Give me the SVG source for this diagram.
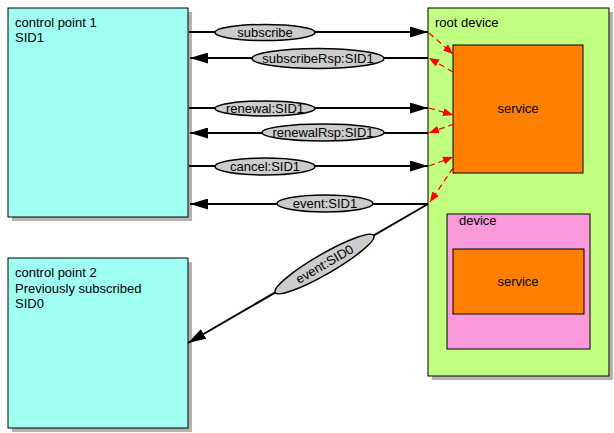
<svg xmlns="http://www.w3.org/2000/svg" width="614" height="433" viewBox="0 0 614 433">
<defs>
<marker id="ah" markerUnits="userSpaceOnUse" markerWidth="18" markerHeight="11" refX="18" refY="5.5" orient="auto"><path d="M0,0 L18,5.5 L0,11 z" fill="#000"/></marker>
<marker id="rh" markerUnits="userSpaceOnUse" markerWidth="10" markerHeight="8" refX="10" refY="4" orient="auto"><path d="M0,0 L10,4 L0,8 z" fill="#ff0000"/></marker>
<style>
text{font-family:"Liberation Sans",Arial,sans-serif;font-size:13px;fill:#000}
.sh{fill:#b3b3b3}
.box{stroke:#000;stroke-width:1}
.cp{fill:#9ffff0}
.msg{stroke:#000;stroke-width:2;fill:none}
.lab{fill:#cccccc;stroke:#000;stroke-width:1.5}
.red{stroke:#ff0000;stroke-width:1.3;stroke-dasharray:6,4;fill:none}
.c{text-anchor:middle}
</style>
</defs>
<g id="cp1">
<rect class="sh" x="12" y="12" width="180" height="209"/>
<rect class="box cp" x="8" y="8" width="180" height="209"/>
<text x="15" y="27">control point 1</text>
<text x="15" y="42">SID1</text>
</g>
<g id="cp2">
<rect class="sh" x="12" y="262" width="180" height="170"/>
<rect class="box cp" x="8" y="258" width="180" height="170"/>
<text x="15" y="277">control point 2</text>
<text x="15" y="293">Previously subscribed</text>
<text x="15" y="308">SID0</text>
</g>
<g id="root">
<rect class="sh" x="432" y="12" width="181" height="368"/>
<rect class="box" fill="#c0ff80" x="428" y="8" width="181" height="368"/>
<text x="435" y="27">root device</text>
</g>
<g id="service1">
<rect class="box" fill="#ff8000" x="453" y="45" width="130" height="128"/>
<text class="c" x="518" y="113">service</text>
</g>
<g id="device">
<rect class="box" fill="#fa9ada" x="447" y="214" width="143" height="135"/>
<text x="459" y="225">device</text>
</g>
<g id="service2">
<rect class="box" fill="#ff8000" x="453" y="249" width="131" height="65"/>
<text class="c" x="518" y="286">service</text>
</g>
<g id="connectors">
<line class="msg" x1="189" y1="32" x2="428" y2="32" marker-end="url(#ah)"/>
<line class="msg" x1="428" y1="58" x2="190" y2="58" marker-end="url(#ah)"/>
<line class="msg" x1="189" y1="108" x2="428" y2="108" marker-end="url(#ah)"/>
<line class="msg" x1="428" y1="133" x2="190" y2="133" marker-end="url(#ah)"/>
<line class="msg" x1="189" y1="166" x2="428" y2="166" marker-end="url(#ah)"/>
<line class="msg" x1="428" y1="204" x2="190" y2="204" marker-end="url(#ah)"/>
<line class="msg" x1="428" y1="204" x2="188" y2="343" marker-end="url(#ah)"/>
<line class="red" x1="429" y1="33" x2="453" y2="54" marker-end="url(#rh)"/>
<line class="red" x1="453" y1="72" x2="429" y2="58" marker-end="url(#rh)"/>
<line class="red" x1="429" y1="108" x2="453" y2="115" marker-end="url(#rh)"/>
<line class="red" x1="454" y1="124" x2="429" y2="133" marker-end="url(#rh)"/>
<line class="red" x1="429" y1="166" x2="453" y2="157" marker-end="url(#rh)"/>
<line class="red" x1="453" y1="168" x2="430" y2="202" marker-end="url(#rh)"/>
<ellipse class="lab" cx="265" cy="32.5" rx="50" ry="8"/>
<text class="c" x="265" y="37">subscribe</text>
<ellipse class="lab" cx="318" cy="58.5" rx="66" ry="10"/>
<text class="c" x="318" y="63">subscribeRsp:SID1</text>
<ellipse class="lab" cx="265" cy="108.5" rx="50" ry="7.5"/>
<text class="c" x="265" y="113">renewal:SID1</text>
<ellipse class="lab" cx="323" cy="132.5" rx="61" ry="8.5"/>
<text class="c" x="323" y="137">renewalRsp:SID1</text>
<ellipse class="lab" cx="265" cy="166.5" rx="50" ry="8.5"/>
<text class="c" x="265" y="171">cancel:SID1</text>
<ellipse class="lab" cx="325" cy="203.5" rx="48" ry="8.5"/>
<text class="c" x="325" y="208">event:SID1</text>
<g transform="translate(324.5,264) rotate(-30.08)">
<ellipse class="lab" cx="0" cy="0" rx="57" ry="10"/>
<text class="c" x="0" y="4.5">event:SID0</text>
</g>
</g>
</svg>
